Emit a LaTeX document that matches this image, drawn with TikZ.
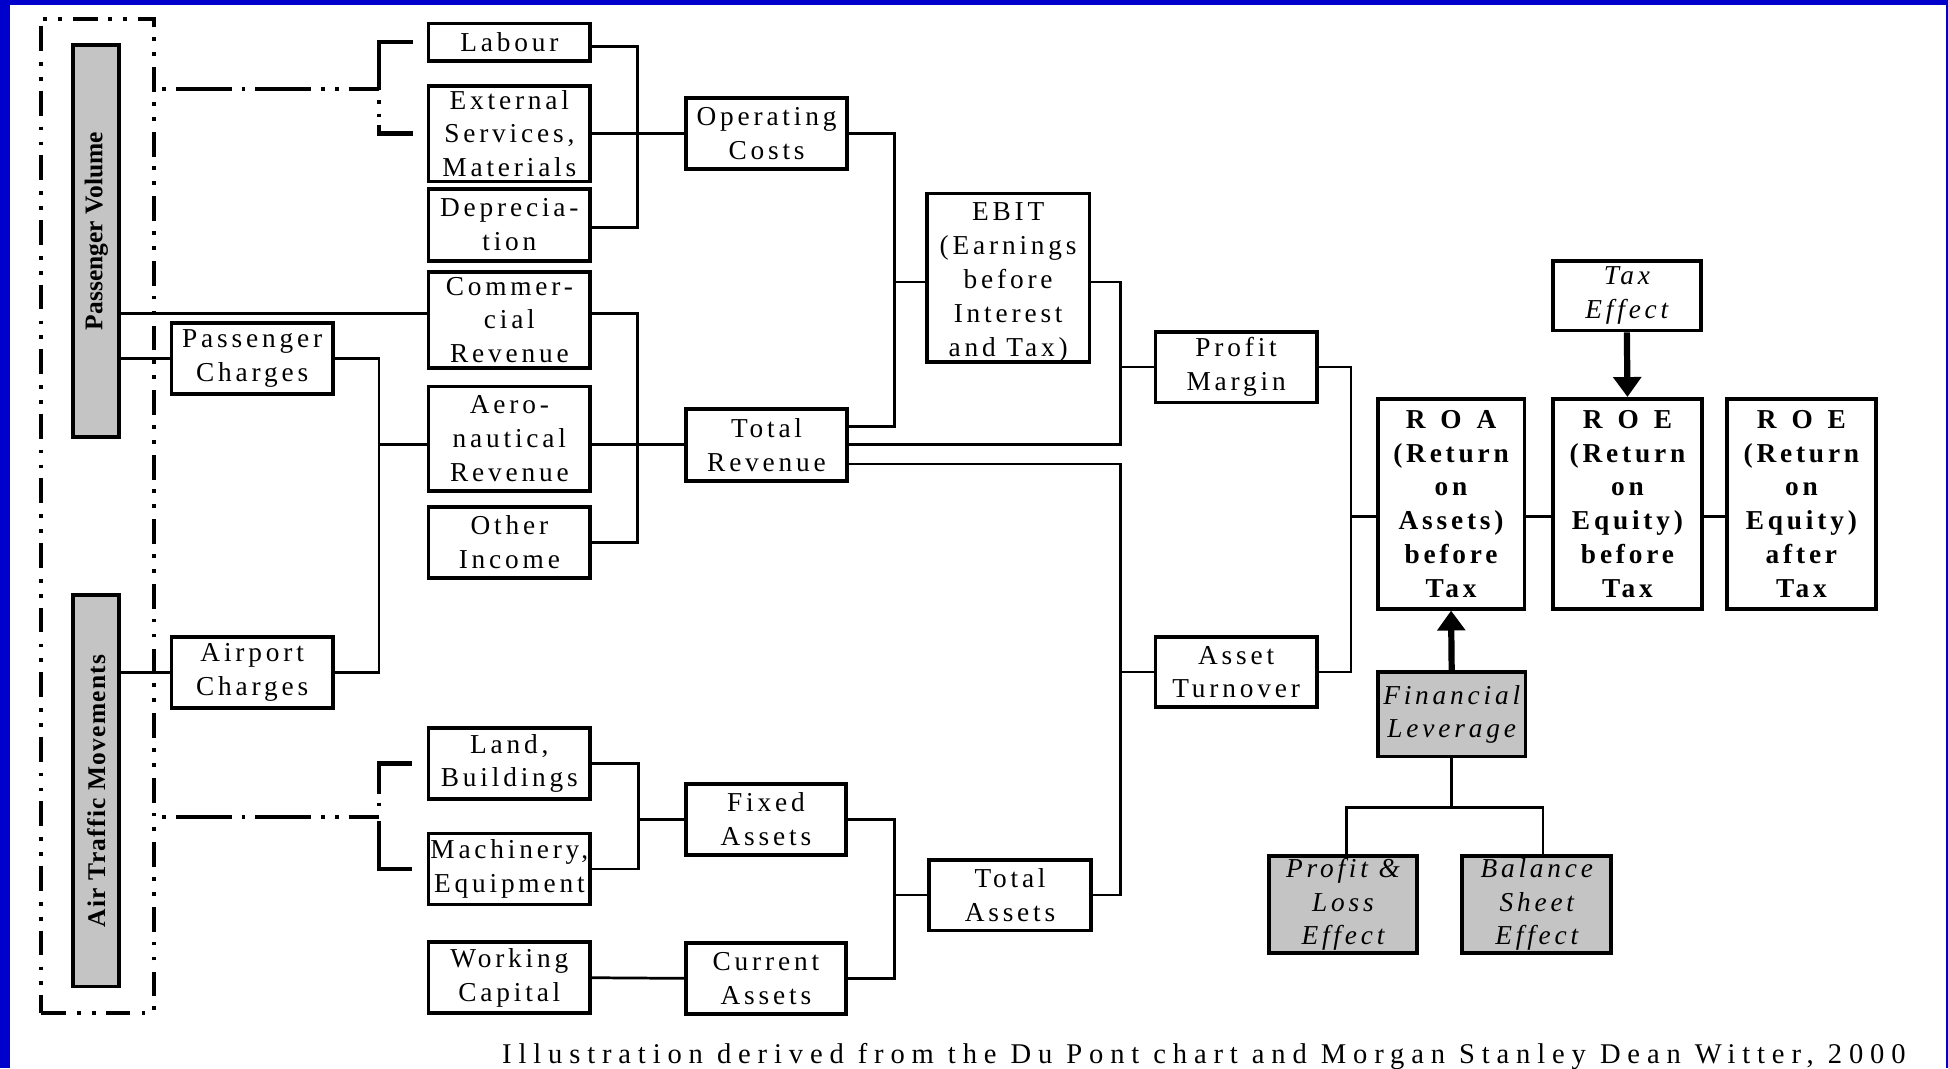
\documentclass[tikz,border=0pt]{standalone}
\usepackage{fontspec}
\setmainfont{Liberation Serif}
\newfontfamily\boxfont[LetterSpace=14]{Liberation Serif}
\newfontfamily\notefont[LetterSpace=24]{Liberation Serif}
\newfontfamily\barfont{Liberation Serif}
\newfontfamily\barfontwide[LetterSpace=5]{Liberation Serif}
\usetikzlibrary{arrows.meta}
\definecolor{frameblue}{RGB}{0,0,204}
\definecolor{boxgrey}{RGB}{196,196,196}
\tikzset{
  bx/.style={draw, line width=3pt, inner sep=0pt, align=center,
    minimum width=130pt, minimum height=57pt,
    font=\boxfont\fontsize{22}{27.2}\selectfont},
  greybx/.style={bx, fill=boxgrey, font=\boxfont\itshape\fontsize{22}{27.2}\selectfont},
  itbx/.style={bx, font=\boxfont\itshape\fontsize{22}{27.2}\selectfont},
  boldbx/.style={bx, font=\boxfont\bfseries\fontsize{22}{27.2}\selectfont},
  bar/.style={draw, fill=boxgrey, line width=3pt, inner sep=0pt, minimum width=37pt},
  bartext/.style={rotate=90, inner sep=0pt, font=\barfont\bfseries\fontsize{20.5}{24}\selectfont},
  conn/.style={line width=2.2pt},
  bigarrow/.style={line width=5pt, -{Triangle[width=22pt,length=16pt]}},
  ddframe/.style={draw, line width=3.2pt, inner sep=0pt,
    dash pattern=on 20pt off 9pt on 3pt off 9pt on 3pt off 8pt},
  ddline/.style={line width=3.2pt,
    dash pattern=on 0pt off 5pt on 3pt off 8pt on 45pt off 8pt on 3pt off 8pt on 45pt off 8pt on 3pt off 8pt on 3pt off 8pt on 40pt},
  bracketa/.style={line width=3.4pt,
    dash pattern=on 66pt off 8pt on 3pt off 8pt on 3pt off 6pt on 60pt},
  bracketb/.style={line width=3.4pt,
    dash pattern=on 51pt off 7pt on 3pt off 12pt on 80pt},
}
\begin{document}
\begin{tikzpicture}[x=1pt,y=-1pt]
% page frame
\fill[frameblue] (0,0) rectangle (1568,860);
\fill[white] (8,4) rectangle (1566.5,860);
\useasboundingbox (0,0) rectangle (1568,860);

% traffic drivers group
\node[ddframe, minimum width=91pt, minimum height=800pt] (grp) at (78.5,415) {};
\node[bar, minimum height=316pt] (pv) at (77.5,194) {};
\node[bartext] (pvtext) at (77.5,186) {Passenger Volume};
\node[bar, minimum height=315pt] (atm) at (77.5,636.5) {};
\node[bartext, font=\barfontwide\bfseries\fontsize{20.5}{24}\selectfont] (atmtext) at (77.5,636.5) {Air Traffic Movements};

% charges
\node[bx] (pc) at (203,288.5) {Passenger\\Charges};
\node[bx] (ac) at (203,541.5) {Airport\\Charges};

% cost items
\node[bx, minimum height=30pt] (labour) at (410,34) {Labour};
\node[bx, minimum height=77pt] (ext) at (410,107.5) {External\\Services,\\Materials};
\node[bx, minimum height=58pt] (dep) at (410,181) {Deprecia-\\tion};
% revenue items
\node[bx, minimum height=77pt] (comm) at (410,257.5) {Commer-\\cial\\Revenue};
\node[bx, minimum height=84pt] (aero) at (410,353) {Aero-\\nautical\\Revenue};
\node[bx] (other) at (410,436.5) {Other\\Income};
% asset items
\node[bx] (land) at (410,614.5) {Land,\\Buildings};
\node[bx] (mach) at (410,699.5) {Machinery,\\Equipment};
\node[bx] (wc) at (410,787) {Working\\Capital};

% aggregates
\node[bx] (opc) at (617,107.5) {Operating\\Costs};
\node[bx, minimum height=58pt] (trev) at (617,358) {Total\\Revenue};
\node[bx, minimum width=129pt] (fa) at (616.5,659.5) {Fixed\\Assets};
\node[bx, minimum width=129pt] (ca) at (616.5,787.5) {Current\\Assets};
\node[bx, minimum width=131pt, minimum height=135pt] (ebit) at (811.5,223.5)
  {\rule{0pt}{22pt}EBIT\\(Earnings\\before\\Interest\\and Tax)};
\node[bx] (ta) at (813,720.5) {Total\\Assets};
\node[bx] (pm) at (995,295.5) {Profit\\Margin};
\node[bx, minimum height=56pt] (atn) at (995,541) {Asset\\Turnover};

% returns
\node[boldbx, minimum width=118pt, minimum height=169pt] (roa) at (1168,405.5)
  {R\hspace{12pt}O\hspace{12pt}A\\(Return\\on\\Assets)\\before\\Tax};
\node[boldbx, minimum width=120pt, minimum height=169pt] (roe) at (1310,405.5)
  {R\hspace{12pt}O\hspace{12pt}E\\(Return\\on\\Equity)\\before\\Tax};
\node[boldbx, minimum width=120pt, minimum height=169pt] (roex) at (1450,405.5)
  {R\hspace{12pt}O\hspace{12pt}E\\(Return\\on\\Equity)\\after\\Tax};
\node[itbx, minimum width=119pt, minimum height=56pt] (tax) at (1309.5,238) {Tax\\Effect};
\node[greybx, minimum width=119pt, minimum height=68pt] (fl) at (1168.5,575) {Financial\\Leverage};
\node[greybx, minimum width=119.5pt, minimum height=78pt] (pl) at (1081,728) {Profit \&\\Loss\\Effect};
\node[greybx, minimum width=120pt, minimum height=78pt] (bs) at (1237,728) {Balance\\Sheet\\Effect};

% source line
\node[anchor=base east, inner sep=0pt, font=\notefont\fontsize{23}{27}\selectfont] (src) at (1534,856)
  {Illustration derived from the Du Pont chart and Morgan Stanley Dean Witter, 2000};

% bus positions
\coordinate (xL) at (305,0);
\coordinate (xC) at (513,0);
\coordinate (xA) at (514,0);
\coordinate (xE) at (720,0);
\coordinate (xP) at (902,0);
\coordinate (xR) at (1087.5,0);
\coordinate (cml) at ([yshift=5pt]comm.west);
\coordinate (trA) at ([yshift=14.5pt]trev.east);
\coordinate (trC) at ([yshift=-15.5pt]trev.east);
\coordinate (rl) at (1087.5,416);
\coordinate (fj) at (1168.5,650);
\coordinate (dja) at (305,72);
\coordinate (djb) at (305,658);

% dash-dotted links from the traffic drivers
\draw[ddline] (grp.east |- dja) -- (dja);
\draw[bracketa] ([xshift=-11pt]labour.west) -- (labour.west -| xL) -- (ext.west -| xL) -- ([xshift=-11pt]ext.west);
\draw[ddline] (grp.east |- djb) -- (djb);
\draw[bracketb] ([xshift=-12pt]land.west) -- (land.west -| xL) -- (mach.west -| xL) -- ([xshift=-12pt]mach.west);

% drivers to charges and commercial revenue
\draw[conn] (pv.east |- cml) -- (cml);
\draw[conn] (pv.east |- pc.west) -- (pc.west);
\draw[conn] (atm.east |- ac.west) -- (ac.west);
\draw[conn] (pc.east) -| (ac.east -| xL) -- (ac.east);
\draw[conn] (trev.west -| xL) -- (aero.west |- trev.west);

% costs
\draw[conn] ([yshift=-3.5pt]labour.east) -| ([yshift=-2pt]dep.east -| xC) -- ([yshift=-2pt]dep.east);
\draw[conn] (ext.east) -- (opc.west);
% revenue
\draw[conn] ([yshift=5pt]comm.east) -| (other.east -| xC) -- (other.east);
\draw[conn] (aero.east |- trev.west) -- (trev.west);
% EBIT
\draw[conn] (opc.east) -| (xE |- trA) -- (trA);
\draw[conn] ([yshift=-3.5pt]ebit.west) -- ([yshift=-3.5pt]ebit.west -| xE);
% profit margin
\draw[conn] ([yshift=-3.5pt]ebit.east) -| (trev.east -| xP) -- (trev.east);
\draw[conn] (pm.west) -- (pm.west -| xP);
% asset turnover
\draw[conn] (trC) -| (ta.east -| xP) -- (ta.east);
\draw[conn] (atn.west) -- (atn.west -| xP);
% ROA
\draw[conn] (pm.east) -| (atn.east -| xR) -- (atn.east);
\draw[conn] (rl) -- (rl -| roa.west);
\draw[conn] (roa.east |- rl) -- (roe.west |- rl);
\draw[conn] (roe.east |- rl) -- (roex.west |- rl);
% assets
\draw[conn] (land.east) -| (mach.east -| xA) -- (mach.east);
\draw[conn] (fa.west) -- (fa.west -| xA);
\draw[conn] (fa.east) -| (ca.east -| xE) -- (ca.east);
\draw[conn] (ta.west) -- (ta.west -| xE);
\draw[conn] (wc.east) -- (ca.west);
% leverage
\draw[conn] (fl.south) -- (fj);
\draw[conn] ([xshift=3pt]pl.north) |- (fj) -| ([xshift=5pt]bs.north);
\draw[bigarrow] (fl.north) -- (roa.south);
\draw[bigarrow] (tax.south) -- (roe.north);
\end{tikzpicture}
\end{document}
